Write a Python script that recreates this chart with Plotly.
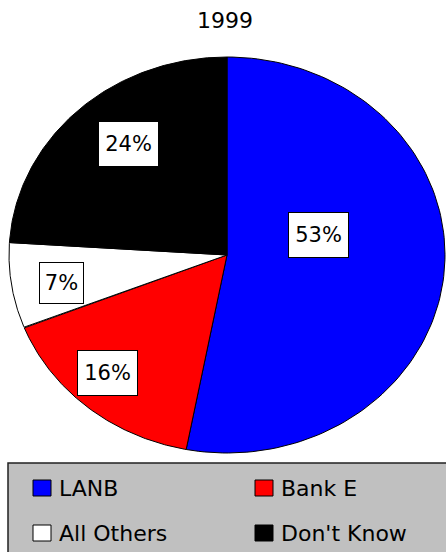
import numpy as np
import plotly.graph_objects as go

# data
labels = ["LANB", "Bank E", "All Others", "Don't Know"]
shares = [53, 16, 7, 24]          # percent of respondents
colors = ["#0000FF", "#FF0000", "#FFFFFF", "#000000"]
title = "1999"

# label placement inside each slice (fraction along the slice, fraction of radius)
label_along = [0.40, 0.55, 0.44, 0.55]
label_rad = [0.43, 0.81, 0.77, 0.72]
label_box = [(59, 44), (59, 44), (43, 40), (59, 44)]

# page / pie geometry in pixels
W, H = 446, 552
cx, cy, rx, ry = 227, 255, 218, 198
FONT = "DejaVu Sans"

fig = go.Figure()

total = sum(shares)
start = 0.0
for name, v, col, along, rad, box in zip(labels, shares, colors, label_along, label_rad, label_box):
    frac = v / total
    th = 2 * np.pi * np.linspace(start, start + frac, 120)
    xs = np.concatenate([[0], np.sin(th), [0]])
    ys = np.concatenate([[0], np.cos(th), [0]])
    fig.add_trace(go.Scatter(x=xs, y=ys, mode="lines", fill="toself", fillcolor=col,
                             line=dict(color="black", width=1), name=name,
                             hoverinfo="name", showlegend=False))
    tm = 2 * np.pi * (start + along * frac)
    fig.add_annotation(x=rad * np.sin(tm), y=rad * np.cos(tm), xref="x", yref="y",
                       text=f"{v}%", showarrow=False, bgcolor="white",
                       bordercolor="black", borderwidth=1, borderpad=0,
                       width=box[0], height=box[1],
                       font=dict(family=FONT, size=21, color="black"))
    start += frac

# hand-made legend box like the original
def px(x):
    return x / W

def py(y):
    return 1 - y / H

fig.add_shape(type="rect", xref="paper", yref="paper", x0=px(8), x1=px(W + 10),
              y0=py(463), y1=py(H + 10), fillcolor="#C0C0C0", line=dict(color="#202020", width=1.5))
legend_slots = [(33, 480), (255, 480), (33, 525), (255, 525)]
for name, col, (lx, ly) in zip(labels, colors, legend_slots):
    fig.add_shape(type="rect", xref="paper", yref="paper", x0=px(lx), x1=px(lx + 18),
                  y0=py(ly), y1=py(ly + 16), fillcolor=col, line=dict(color="black", width=1))
    fig.add_annotation(x=px(lx + 24), y=py(ly + 8), xref="paper", yref="paper",
                       xanchor="left", yanchor="middle", text=name, showarrow=False,
                       font=dict(family=FONT, size=22, color="black"))

fig.update_layout(
    width=W, height=H,
    margin=dict(l=0, r=0, t=0, b=0),
    paper_bgcolor="white", plot_bgcolor="white",
    title=dict(text=title, x=225 / W, xanchor="center", y=1 - 20 / H, yanchor="middle",
               yref="container", font=dict(family=FONT, size=22, color="black")),
    xaxis=dict(range=[-cx / rx, (W - cx) / rx], visible=False, fixedrange=True),
    yaxis=dict(range=[-(H - cy) / ry, cy / ry], visible=False, fixedrange=True),
    showlegend=False,
)

# page has a default 8px body margin, drop it so the chart fills the window
fig.write_html("out.html", config={"displayModeBar": False},
               post_script="document.body.style.margin='0';document.body.style.overflow='hidden';")
